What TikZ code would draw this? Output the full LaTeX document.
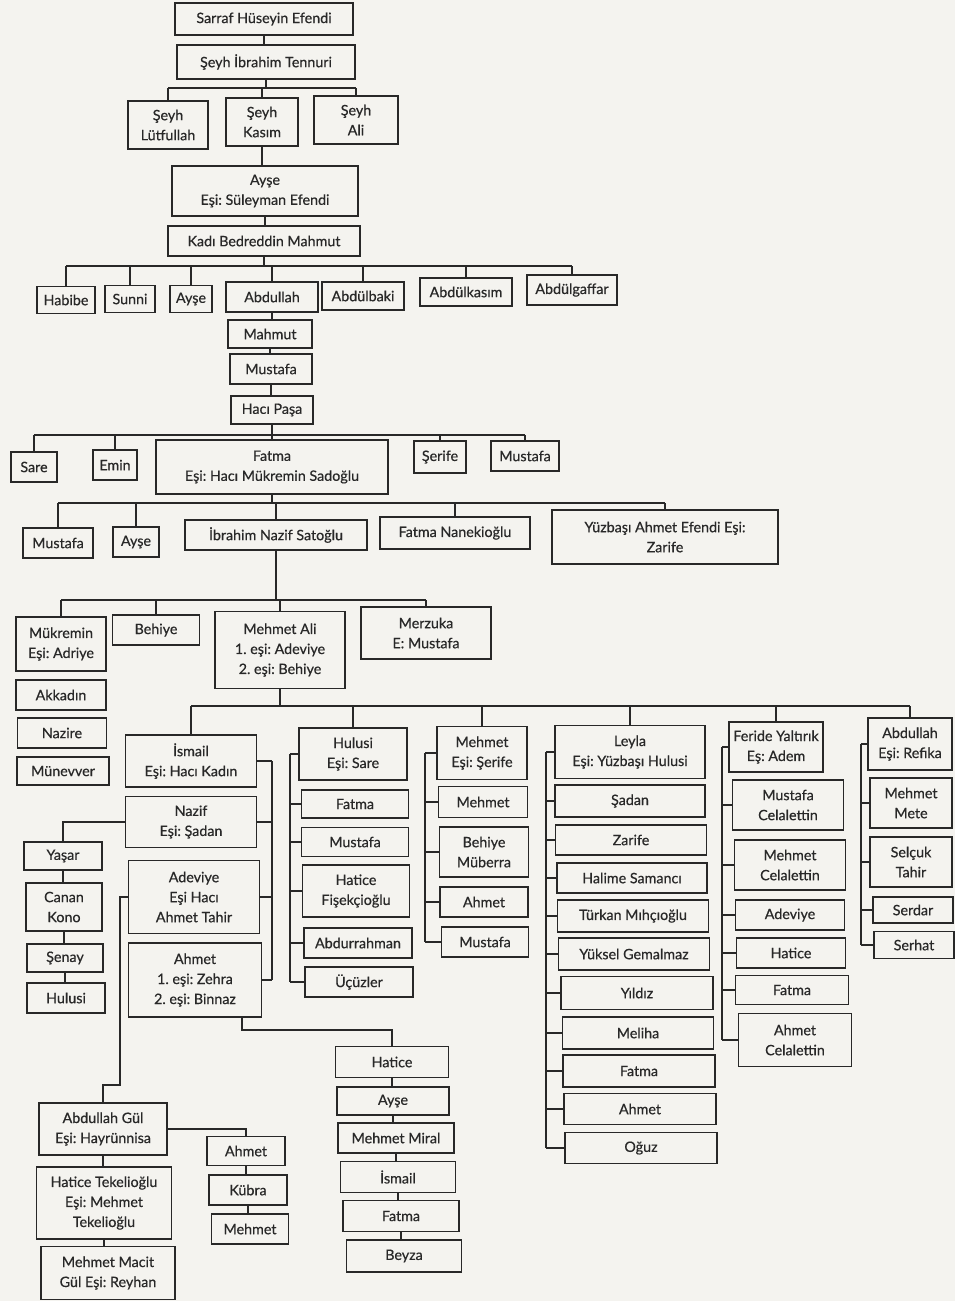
\documentclass[tikz,border=0pt]{standalone}
\usepackage{fontspec}
\setmainfont{Lato}
\newfontfamily\kisifont{Lato}[FakeBold=0.5]
\frenchspacing
\definecolor{paper}{RGB}{244,243,239}
\definecolor{ink}{RGB}{40,40,40}
\tikzset{
	kisi/.style={draw=ink, line width=1.6pt, align=center, inner sep=1pt, text=ink, font=\kisifont\fontsize{14.3}{20}\selectfont},
	bag/.style={draw=ink, line width=1.6pt},
	wh/.style 2 args={minimum width=#1, minimum height=#2},
}

\begin{document}
\begin{tikzpicture}[x=1pt,y=1pt,yscale=-1]
		%set diagram to the page, 955 wide and 1301 high
		\fill[paper] (0,0) rectangle (955,1301);
		\useasboundingbox (0,0) rectangle (955,1301);
		
		%Shape: Rectangle [top line]
		\node[kisi, wh={178}{32}] (sarraf) at (264,19) {Sarraf Hüseyin Efendi};
		\node[kisi, wh={178}{34}] (ibrahim) at (266,62) {Şeyh İbrahim Tennuri};
		\node[kisi, wh={80}{48}] (lutfullah) at (168,125) {Şeyh\\Lütfullah};
		\node[kisi, wh={72}{48}] (kasim) at (262,122) {Şeyh\\Kasım};
		\node[kisi, wh={84}{48}] (ali) at (356,120) {Şeyh\\Ali};
		\node[kisi, wh={186}{50}] (ayse1) at (265,191) {Ayşe\\Eşi: Süleyman Efendi};
		\node[kisi, wh={192}{30}] (kadi) at (264,241) {Kadı Bedreddin Mahmut};
		
		%Shape: Rectangle [children of Kadı Bedreddin]
		\node[kisi, wh={58}{27}] (habibe) at (66,300) {Habibe};
		\node[kisi, wh={50}{27}] (sunni) at (130,299) {Sunni};
		\node[kisi, wh={42}{27}] (ayse2) at (191,299) {Ayşe};
		\node[kisi, wh={92}{30}] (abdullah1) at (272,297) {Abdullah};
		\node[kisi, wh={82}{28}] (abdulbaki) at (363,296) {Abdülbaki};
		\node[kisi, wh={92}{28}] (abdulkasim) at (466,292) {Abdülkasım};
		\node[kisi, wh={90}{30}] (abdulgaffar) at (572,290) {Abdülgaffar};
		\node[kisi, wh={84}{28}] (mahmut) at (270,334) {Mahmut};
		\node[kisi, wh={82}{30}] (mustafa1) at (271,369) {Mustafa};
		\node[kisi, wh={82}{28}] (haci) at (272,410) {Hacı Paşa};
		
		%Shape: Rectangle [children of Hacı Paşa]
		\node[kisi, wh={46}{30}] (sare) at (34,467) {Sare};
		\node[kisi, wh={44}{30}] (emin) at (115,465) {Emin};
		\node[kisi, wh={232}{54}] (fatma1) at (272,467) {Fatma\\Eşi: Hacı Mükremin Sadoğlu};
		\node[kisi, wh={52}{32}] (serife) at (440,457) {Şerife};
		\node[kisi, wh={68}{30}] (mustafa2) at (525,456) {Mustafa};
		\node[kisi, wh={70}{30}] (mustafa3) at (58,543) {Mustafa};
		\node[kisi, wh={46}{30}] (ayse3) at (136,542) {Ayşe};
		\node[kisi, wh={182}{30}] (ibrahimnazif) at (276,535) {İbrahim Nazif Satoğlu};
		\node[kisi, wh={150}{32}] (fatmanane) at (455,533) {Fatma Nanekioğlu};
		\node[kisi, wh={226}{54}] (yuzbasi) at (665,537) {Yüzbaşı Ahmet Efendi Eşi:\\Zarife};
		
		%Shape: Rectangle [children of İbrahim Nazif]
		\node[kisi, wh={90}{54}] (mukremin) at (61,644) {Mükremin\\Eşi: Adriye};
		\node[kisi, wh={87}{30}] (behiye1) at (156,630) {Behiye};
		\node[kisi, wh={130}{77}] (mehmetali) at (280,650) {Mehmet Ali\\1. eşi: Adeviye\\2. eşi: Behiye};
		\node[kisi, wh={130}{52}] (merzuka) at (426,633) {Merzuka\\E: Mustafa};
		\node[kisi, wh={90}{30}] (akkadin) at (61,695) {Akkadın};
		\node[kisi, wh={89}{30}] (nazire) at (62,733) {Nazire};
		\node[kisi, wh={92}{28}] (munevver) at (63,771) {Münevver};
		
		%Shape: Rectangle [İsmail and his line]
		\node[kisi, wh={131}{52}] (ismail) at (191,761) {İsmail\\Eşi: Hacı Kadın};
		\node[kisi, wh={131}{51}] (nazif) at (191,822) {Nazif\\Eşi: Şadan};
		\node[kisi, wh={131}{73}] (adeviye) at (194,897) {Adeviye\\Eşi Hacı\\Ahmet Tahir};
		\node[kisi, wh={133}{74}] (ahmet1) at (195,980) {Ahmet\\1. eşi: Zehra\\2. eşi: Binnaz};
		\node[kisi, wh={78}{28}] (yasar) at (63,856) {Yaşar};
		\node[kisi, wh={76}{48}] (canan) at (64,907) {Canan\\Kono};
		\node[kisi, wh={76}{28}] (senay) at (65,958) {Şenay};
		\node[kisi, wh={78}{30}] (hulusi2) at (66,998) {Hulusi};
		\node[kisi, wh={128}{52}] (abdullahgul) at (103,1129) {Abdullah Gül\\Eşi: Hayrünnisa};
		\node[kisi, wh={135}{72}] (haticetek) at (104,1203) {Hatice Tekelioğlu\\Eşi: Mehmet\\Tekelioğlu};
		\node[kisi, wh={134}{53}] (mehmetmacit) at (108,1273) {Mehmet Macit\\Gül Eşi: Reyhan};
		\node[kisi, wh={78}{29}] (ahmet4) at (246,1151) {Ahmet};
		\node[kisi, wh={78}{30}] (kubra) at (248,1190) {Kübra};
		\node[kisi, wh={77}{30}] (mehmet3) at (250,1229) {Mehmet};
		\node[kisi, wh={113}{31}] (hatice3) at (392,1062) {Hatice};
		\node[kisi, wh={112}{28}] (ayse4) at (393,1101) {Ayşe};
		\node[kisi, wh={116}{30}] (mehmetmiral) at (396,1138) {Mehmet Miral};
		\node[kisi, wh={115}{31}] (ismail2) at (398,1177) {İsmail};
		\node[kisi, wh={116}{31}] (fatma5) at (401,1216) {Fatma};
		\node[kisi, wh={115}{32}] (beyza) at (404,1256) {Beyza};
		
		%Shape: Rectangle [Hulusi]
		\node[kisi, wh={108}{52}] (hulusi1) at (353,754) {Hulusi\\Eşi: Sare};
		\node[kisi, wh={107}{28}] (fatma2) at (355,804) {Fatma};
		\node[kisi, wh={107}{29}] (mustafa4) at (355,842) {Mustafa};
		\node[kisi, wh={107}{52}] (hatice1) at (356,891) {Hatice\\Fişekçioğlu};
		\node[kisi, wh={108}{30}] (abdurrahman) at (358,943) {Abdurrahman};
		\node[kisi, wh={108}{30}] (ucuzler) at (359,982) {Üçüzler};
		
		%Shape: Rectangle [Mehmet]
		\node[kisi, wh={90}{53}] (mehmet1) at (482,753) {Mehmet\\Eşi: Şerife};
		\node[kisi, wh={89}{31}] (mehmet2) at (483,802) {Mehmet};
		\node[kisi, wh={89}{50}] (behiye2) at (484,852) {Behiye\\Müberra};
		\node[kisi, wh={88}{30}] (ahmet2) at (484,902) {Ahmet};
		\node[kisi, wh={87}{30}] (mustafa5) at (485,942) {Mustafa};
		
		%Shape: Rectangle [Leyla]
		\node[kisi, wh={150}{53}] (leyla) at (630,752) {Leyla\\Eşi: Yüzbaşı Hulusi};
		\node[kisi, wh={150}{32}] (sadan) at (630,801) {Şadan};
		\node[kisi, wh={151}{30}] (zarife) at (631,840) {Zarife};
		\node[kisi, wh={150}{30}] (halime) at (632,878) {Halime Samancı};
		\node[kisi, wh={151}{32}] (turkan) at (633,916) {Türkan Mıhçıoğlu};
		\node[kisi, wh={151}{32}] (yuksel) at (634,954) {Yüksel Gemalmaz};
		\node[kisi, wh={152}{33}] (yildiz) at (637,993) {Yıldız};
		\node[kisi, wh={151}{32}] (meliha) at (638,1033) {Meliha};
		\node[kisi, wh={152}{32}] (fatma3) at (639,1071) {Fatma};
		\node[kisi, wh={152}{31}] (ahmet3) at (640,1109) {Ahmet};
		\node[kisi, wh={152}{31}] (oguz) at (641,1148) {Oğuz};
		
		%Shape: Rectangle [Feride]
		\node[kisi, wh={94}{50}] (feride) at (776,747) {Feride Yaltırık\\Eş: Adem};
		\node[kisi, wh={111}{50}] (mustafacel) at (788,805) {Mustafa\\Celalettin};
		\node[kisi, wh={111}{50}] (mehmetcel) at (790,865) {Mehmet\\Celalettin};
		\node[kisi, wh={109}{30}] (adeviye2) at (790,915) {Adeviye};
		\node[kisi, wh={109}{30}] (hatice2) at (791,953) {Hatice};
		\node[kisi, wh={113}{29}] (fatma4) at (792,990) {Fatma};
		\node[kisi, wh={113}{53}] (ahmetcel) at (795,1040) {Ahmet\\Celalettin};
		
		%Shape: Rectangle [Abdullah]
		\node[kisi, wh={84}{52}] (abdullah2) at (910,744) {Abdullah\\Eşi: Refika};
		\node[kisi, wh={82}{50}] (mehmetmete) at (911,803) {Mehmet\\Mete};
		\node[kisi, wh={82}{50}] (selcuk) at (911,862) {Selçuk\\Tahir};
		\node[kisi, wh={80}{26}] (serdar) at (913,910) {Serdar};
		\node[kisi, wh={80}{27}] (serhat) at (914,945) {Serhat};
		
		%Straight Lines [one child under the other]
		\foreach \a/\b in {sarraf/ibrahim, kasim/ayse1, ayse1/kadi, abdullah1/mahmut, mahmut/mustafa1, mustafa1/haci,
			yasar/canan, canan/senay, senay/hulusi2, abdullahgul/haticetek, haticetek/mehmetmacit,
			ahmet4/kubra, kubra/mehmet3, hatice3/ayse4, ayse4/mehmetmiral, mehmetmiral/ismail2, ismail2/fatma5, fatma5/beyza}
			\draw[bag] (\a.south) -- (\a.south |- \b.north);
		
		%Straight Lines [bars over a row of children]
		\coordinate (bar1) at (0,88);
		\coordinate (bar2) at (0,266);
		\coordinate (bar3) at (0,435);
		\coordinate (bar4) at (0,503);
		\coordinate (bar5) at (0,600);
		\coordinate (bar6) at (0,706);
		\draw[bag] (ibrahim.south) -- (ibrahim.south |- bar1);
		\draw[bag] (lutfullah.north |- bar1) -- (ali.north |- bar1);
		\foreach \c in {lutfullah,kasim,ali}
			\draw[bag] (\c.north) -- (\c.north |- bar1);
		\draw[bag] (kadi.south) -- (kadi.south |- bar2);
		\draw[bag] (habibe.north |- bar2) -- (abdulgaffar.north |- bar2);
		\foreach \c in {habibe,sunni,ayse2,abdullah1,abdulbaki,abdulkasim,abdulgaffar}
			\draw[bag] (\c.north) -- (\c.north |- bar2);
		\draw[bag] (haci.south) -- (haci.south |- bar3);
		\draw[bag] (sare.north |- bar3) -- (mustafa2.north |- bar3);
		\foreach \c in {sare,emin,fatma1,serife,mustafa2}
			\draw[bag] (\c.north) -- (\c.north |- bar3);
		\draw[bag] (fatma1.south) -- (fatma1.south |- bar4);
		\draw[bag] (mustafa3.north |- bar4) -- (yuzbasi.north |- bar4);
		\foreach \c in {mustafa3,ayse3,ibrahimnazif,fatmanane,yuzbasi}
			\draw[bag] (\c.north) -- (\c.north |- bar4);
		\draw[bag] (ibrahimnazif.south) -- (ibrahimnazif.south |- bar5);
		\draw[bag] (mukremin.north |- bar5) -- (merzuka.north |- bar5);
		\foreach \c in {mukremin,behiye1,mehmetali,merzuka}
			\draw[bag] (\c.north) -- (\c.north |- bar5);
		\draw[bag] (mehmetali.south) -- (mehmetali.south |- bar6);
		\draw[bag] (ismail.north |- bar6) -- (abdullah2.north |- bar6);
		\foreach \c in {ismail,hulusi1,mehmet1,leyla,feride,abdullah2}
			\draw[bag] (\c.north) -- (\c.north |- bar6);
		
		%Straight Lines [brackets beside a column]
		\coordinate (brIsmail) at (272,0);
		\draw[bag] (ismail.east -| brIsmail) -- (ahmet1.east -| brIsmail);
		\foreach \c in {ismail,nazif,adeviye,ahmet1}
			\draw[bag] (\c.east) -- (\c.east -| brIsmail);
		\coordinate (brHulusi) at (290,0);
		\draw[bag] (hulusi1.west -| brHulusi) -- (ucuzler.west -| brHulusi);
		\foreach \c in {hulusi1,fatma2,mustafa4,hatice1,abdurrahman,ucuzler}
			\draw[bag] (\c.west) -- (\c.west -| brHulusi);
		\coordinate (brMehmet) at (425,0);
		\draw[bag] (mehmet1.west -| brMehmet) -- (mustafa5.west -| brMehmet);
		\foreach \c in {mehmet1,mehmet2,behiye2,ahmet2,mustafa5}
			\draw[bag] (\c.west) -- (\c.west -| brMehmet);
		\coordinate (brLeyla) at (546,0);
		\draw[bag] (leyla.west -| brLeyla) -- (oguz.west -| brLeyla);
		\foreach \c in {leyla,sadan,zarife,halime,turkan,yuksel,yildiz,meliha,fatma3,ahmet3,oguz}
			\draw[bag] (\c.west) -- (\c.west -| brLeyla);
		\coordinate (brFeride) at (722,0);
		\draw[bag] (feride.west -| brFeride) -- (ahmetcel.west -| brFeride);
		\foreach \c in {feride,mustafacel,mehmetcel,adeviye2,hatice2,fatma4,ahmetcel}
			\draw[bag] (\c.west) -- (\c.west -| brFeride);
		\coordinate (brAbdullah) at (861,0);
		\draw[bag] (abdullah2.west -| brAbdullah) -- (serhat.west -| brAbdullah);
		\foreach \c in {abdullah2,mehmetmete,selcuk,serdar,serhat}
			\draw[bag] (\c.west) -- (\c.west -| brAbdullah);
		
		%Straight Lines [elbows]
		\draw[bag] (nazif.west) -| (yasar.north);
		\coordinate (jogAdeviye) at (120,1085);
		\draw[bag] (adeviye.west) -| (jogAdeviye) -| (abdullahgul.north);
		\draw[bag] (abdullahgul.east) -| (ahmet4.north);
		\coordinate (jogAhmet) at (242,1030);
		\draw[bag] (ahmet1.south -| jogAhmet) -- (jogAhmet) -| (hatice3.north);
		
		\end{tikzpicture}
\end{document}
